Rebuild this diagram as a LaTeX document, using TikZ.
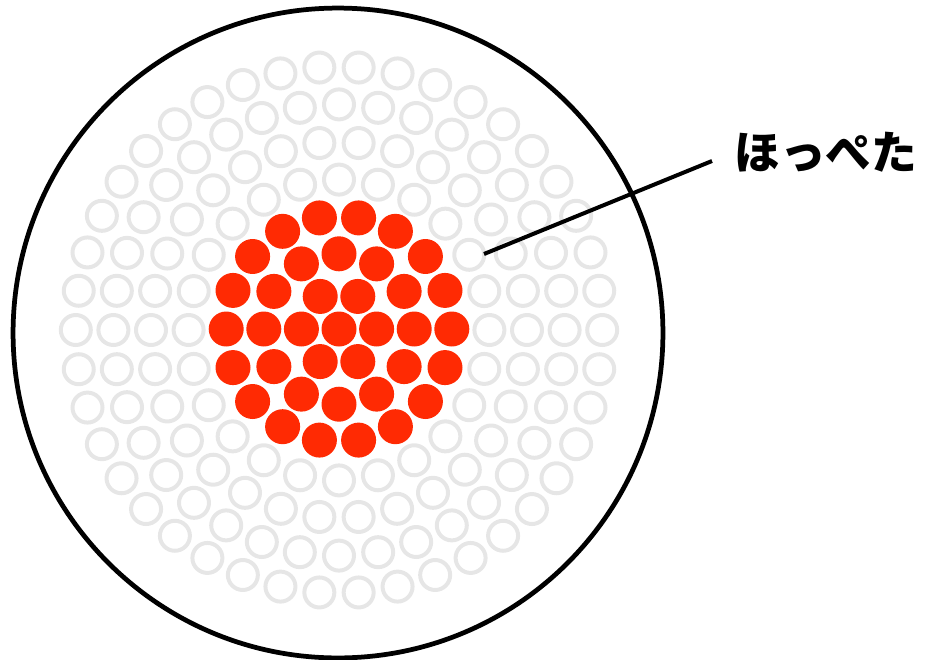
\documentclass[tikz,border=0pt]{standalone}
\usepackage{fontspec}
\newfontfamily\jpfont{Noto Sans CJK JP}
\usetikzlibrary{positioning}
\definecolor{cheekred}{HTML}{FF2A03}
\definecolor{pore}{HTML}{E6E6E6}

\begin{document}
\begin{tikzpicture}[x=0.02cm, y=-0.02cm,
  rim/.style={draw=black, line width=0.095cm},
  hole/.style={draw=pore, line width=0.08cm},
  dot/.style={fill=cheekred},
  leader/.style={draw=black, line width=0.08cm},
  tag/.style={font=\jpfont\bfseries\fontsize{26pt}{30pt}\selectfont, inner sep=0pt}
]
  \useasboundingbox (0,0) rectangle (932,659);

  % outline
  \draw[rim] (338,333) circle (6.5cm);

  % grey rings
  \foreach \k in {4,...,7} {
    \pgfmathtruncatemacro\n{6*\k}
    \foreach \i in {1,...,\n}
      \draw[hole] ({339+37.6*\k*cos(360*\i/\n)}, {330+37.6*\k*sin(360*\i/\n)}) circle (0.3cm);
  }

  % red core
  \fill[dot] (339,329) circle (0.35cm);
  \foreach \k in {1,...,3} {
    \pgfmathtruncatemacro\n{6*\k}
    \foreach \i in {1,...,\n}
      \fill[dot] ({339+37.6*\k*cos(360*\i/\n)}, {329+37.6*\k*sin(360*\i/\n)}) circle (0.35cm);
  }

  % label
  \coordinate (cheek) at (484,254);
  \node[tag, anchor=west] (label) at (734,152) {ほっぺた};
  \draw[leader] (cheek) -- ([xshift=-0.44cm, yshift=-0.18cm]label.west);
\end{tikzpicture}
\end{document}
